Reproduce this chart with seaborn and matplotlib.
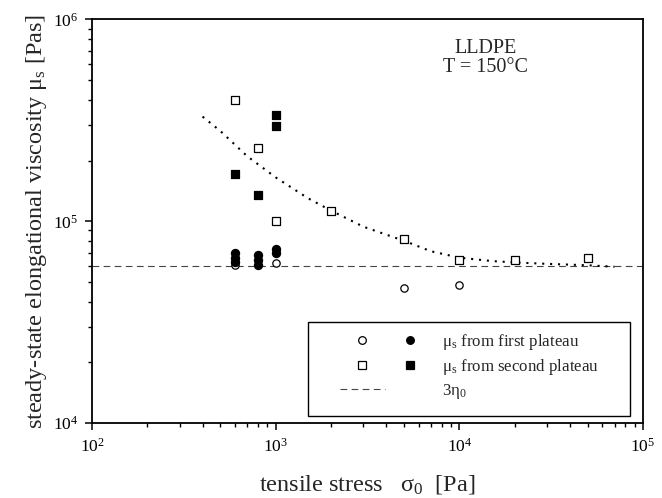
import numpy as np
import pandas as pd
import matplotlib
matplotlib.use("Agg")
import matplotlib.pyplot as plt
import seaborn as sns
from matplotlib.lines import Line2D
from matplotlib.legend_handler import HandlerTuple
from matplotlib.patches import Rectangle

# ---------------- data ----------------
first_open_x = [600, 1000, 5000, 10000]
first_open_y = [6.05e4, 6.2e4, 4.68e4, 4.82e4]

first_filled_x = [600, 600, 600, 800, 800, 800, 1000, 1000]
first_filled_y = [7.0e4, 6.6e4, 6.3e4, 6.8e4, 6.4e4, 6.1e4, 7.3e4, 7.0e4]

second_open_x = [600, 800, 1000, 2000, 5000, 10000, 20000, 50000]
second_open_y = [4.0e5, 2.3e5, 1.0e5, 1.13e5, 8.2e4, 6.4e4, 6.4e4, 6.6e4]

second_filled_x = [600, 800, 1000, 1000]
second_filled_y = [1.72e5, 1.35e5, 3.36e5, 2.96e5]

fit_x = [400, 500, 700, 1000, 1500, 2000, 3000, 5000, 7000, 10000, 15000, 20000, 30000, 50000, 70000]
fit_y = [3.3e5, 2.8e5, 2.1e5, 1.65e5, 1.3e5, 1.13e5, 9.4e4, 8.0e4, 7.1e4, 6.6e4, 6.35e4, 6.25e4, 6.15e4, 6.05e4, 5.95e4]

eta0_3 = 6.0e4

legend_labels = [r"μ$_\mathrm{s}$ from first plateau",
                 r"μ$_\mathrm{s}$ from second plateau",
                 r"3η$_\mathrm{0}$"]

# ---------------- style ----------------
sns.set_theme(style="ticks")
plt.rcParams["font.family"] = ["Liberation Serif", "DejaVu Serif"]
plt.rcParams["mathtext.fontset"] = "custom"
plt.rcParams["mathtext.rm"] = "Liberation Serif"
plt.rcParams["mathtext.it"] = "Liberation Serif:italic"
plt.rcParams["axes.edgecolor"] = "black"
plt.rcParams["xtick.color"] = "black"
plt.rcParams["ytick.color"] = "black"

fig = plt.figure(figsize=(6.62, 4.98), dpi=100)
ax = fig.add_axes([92/662, 1 - 423/498, (643-92)/662, (423-19.5)/498])
ax.set_xscale("log")
ax.set_yscale("log")

# ---------------- marks ----------------
ax.axhline(eta0_3, color="#444444", lw=0.8, ls=(0, (6, 4)), zorder=1)

sns.lineplot(x=fit_x, y=fit_y, estimator=None, sort=False, ax=ax,
             color="black", lw=1.5, linestyle=(0, (1, 2.8)), zorder=2)

sns.scatterplot(x=first_open_x, y=first_open_y, ax=ax, marker="o", s=28,
                facecolor="white", edgecolor="black", linewidth=0.9, zorder=3)
sns.scatterplot(x=first_filled_x, y=first_filled_y, ax=ax, marker="o", s=34,
                color="black", edgecolor="black", linewidth=0.9, zorder=4)
sns.scatterplot(x=second_open_x, y=second_open_y, ax=ax, marker="s", s=28,
                facecolor="white", edgecolor="black", linewidth=0.9, zorder=3)
sns.scatterplot(x=second_filled_x, y=second_filled_y, ax=ax, marker="s", s=34,
                color="black", edgecolor="black", linewidth=0.9, zorder=4)

# ---------------- axes ----------------
ax.set_xlim(1e2, 1e5)
ax.set_ylim(1e4, 1e6)
for sp in ax.spines.values():
    sp.set_linewidth(1.3)
    sp.set_visible(True)
ax.tick_params(which="major", direction="out", length=5, width=1.1, labelsize=12.5)
ax.tick_params(which="minor", direction="out", length=3, width=1.0)
ax.tick_params(axis="x", which="major", pad=6)
ax.tick_params(axis="y", which="major", pad=5)
ax.tick_params(top=False, right=False, which="both")

ax.set_xlabel(r"tensile stress   σ$_\mathrm{0}$  [Pa]", fontsize=17.5, labelpad=12)
ax.set_ylabel(r"steady-state elongational viscosity μ$_\mathrm{s}$ [Pas]", fontsize=17.5, labelpad=3)

ax.text(0.715, 0.929, "LLDPE", transform=ax.transAxes, ha="center", va="center", fontsize=14.5)
ax.text(0.715, 0.882, "T = 150°C", transform=ax.transAxes, ha="center", va="center", fontsize=14.5)

# ---------------- legend ----------------
h_first = (Line2D([], [], ls="none", marker="o", ms=5.5, mfc="white", mec="black", mew=0.9),
           Line2D([], [], ls="none", marker="o", ms=5.5, mfc="black", mec="black", mew=0.9))
h_second = (Line2D([], [], ls="none", marker="s", ms=5.5, mfc="white", mec="black", mew=0.9),
            Line2D([], [], ls="none", marker="s", ms=5.5, mfc="black", mec="black", mew=0.9))
h_eta = (Line2D([], [], color="#444444", lw=0.8, ls=(0, (6, 4))),
         Line2D([], [], ls="none"))

ax.add_patch(Rectangle((0.3926, 0.018), 0.583, 0.233, transform=ax.transAxes,
                       fill=True, facecolor="white", edgecolor="black", lw=1.0, zorder=5))
fs_leg = 12.2
px = fs_leg * 100 / 72
leg = ax.legend([h_first, h_second, h_eta], legend_labels,
                handler_map={tuple: HandlerTuple(ndivide=None, pad=3 / px)},
                loc="upper left", bbox_to_anchor=(0.450, 0.225),
                frameon=False, fontsize=fs_leg, handlelength=93 / px, handletextpad=8.7 / px,
                borderpad=0, borderaxespad=0, labelspacing=0.3)
leg.set_zorder(6)

fig.savefig("out.png", dpi=100)
